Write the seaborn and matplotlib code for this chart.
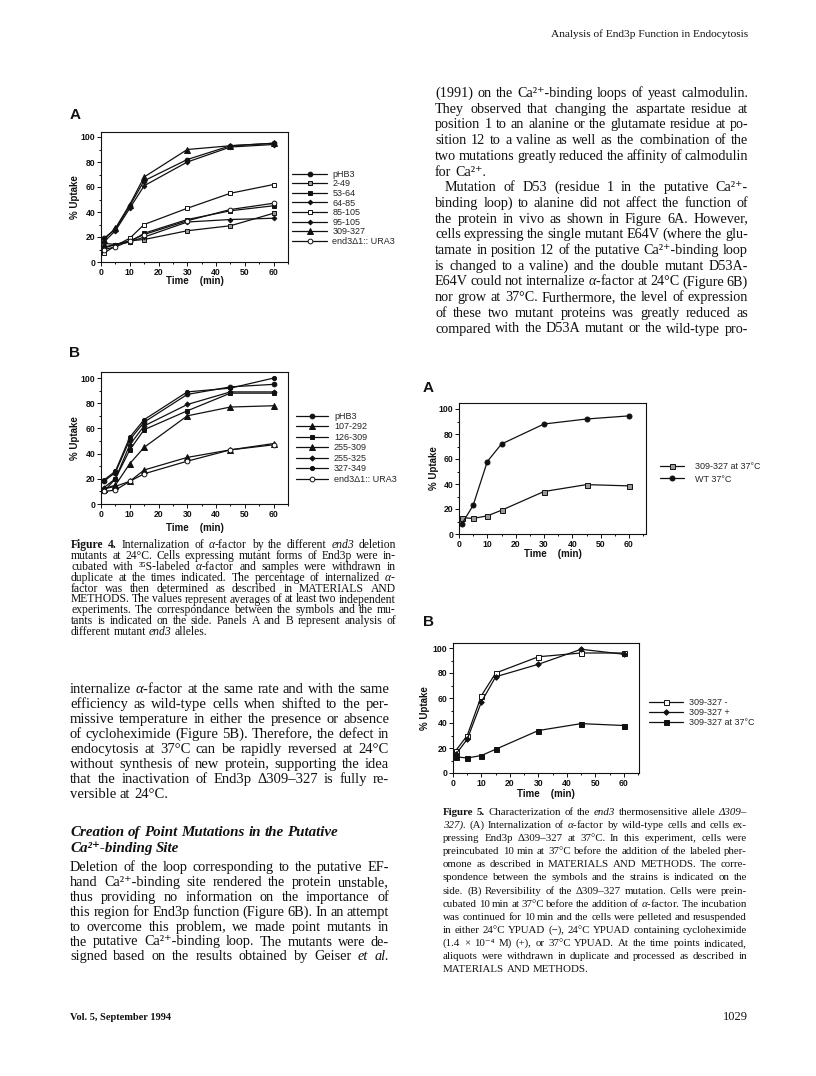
import matplotlib
matplotlib.use('Agg')
import seaborn as sns
import matplotlib.pyplot as plt
from matplotlib.ticker import MultipleLocator

# page size in pixels (dpi 100)
W, H = 816, 1076
INK = '#111111'
SERIF = 'Liberation Serif'
SERIFS = [SERIF, 'DejaVu Serif']
SANS = 'Liberation Sans'

# ---- data ----
TIME = [1, 5, 10, 15, 30, 45, 60]

F4A_NAMES = ['pHB3', '2-49', '53-64', '64-85', '85-105', '95-105', '309-327', 'end3Δ1:: URA3']
F4A_VALUES = [
    [19, 26, 45, 65, 82, 93, 95],
    [11, 14, 17, 18, 25, 29, 39],
    [12, 14, 16, 23, 34, 41, 45],
    [16, 25, 43, 61, 80, 92, 94],
    [7, 13, 19, 30, 43, 55, 62],
    [15, 14, 16, 20, 32, 34, 35],
    [18, 27, 46, 68, 90, 93, 95],
    [10, 12, 17, 22, 33, 42, 47],
]

F4B_NAMES = ['pHB3', '107-292', '126-309', '255-309', '255-325', '327-349', 'end3Δ1:: URA3']
F4B_VALUES = [
    [18, 25, 51, 65, 87, 93, 95],
    [12, 14, 18, 27, 37, 43, 48],
    [10, 20, 43, 59, 74, 88, 88],
    [12, 15, 32, 45, 70, 77, 78],
    [13, 20, 47, 62, 79, 89, 89],
    [19, 26, 53, 67, 89, 92, 100],
    [10, 11, 18, 24, 34, 43, 47],
]

F5A_NAMES = ['309-327 at 37°C', 'WT 37°C']
F5A_VALUES = [
    [13, 12.5, 14.5, 19, 34, 39.5, 38.5],
    [8, 23, 58, 72, 88, 92, 94.5],
]

F5B_NAMES = ['309-327 -', '309-327 +', '309-327 at 37°C']
F5B_VALUES = [
    [18, 30, 62, 80, 93, 96, 96],
    [15, 27, 57, 77, 87, 99, 95],
    [13, 12, 14, 19, 34, 39.5, 38],
]

# marker, face colour, size
GRAY = '#9a9a9a'
F4A_MARKS = [('o', INK, 3.4), ('s', GRAY, 3.2), ('s', INK, 3.2), ('D', INK, 2.4),
             ('s', 'white', 3.4), ('D', INK, 2.4), ('^', INK, 3.8), ('o', 'white', 3.4)]
F4B_MARKS = [('o', INK, 3.4), ('^', INK, 3.8), ('s', INK, 3.4), ('^', INK, 3.8),
             ('D', INK, 2.6), ('o', INK, 3.0), ('o', 'white', 3.4)]
F5A_MARKS = [('s', GRAY, 3.6), ('o', INK, 3.6)]
F5B_MARKS = [('s', 'white', 3.6), ('D', INK, 2.8), ('s', INK, 3.6)]

# ---- page text ----
HEADER = 'Analysis of End3p Function in Endocytosis'

RIGHT_BODY = [
    "(1991) on the Ca²⁺-binding loops of yeast calmodulin.",
    "They observed that changing the aspartate residue at",
    "position 1 to an alanine or the glutamate residue at po-",
    "sition 12 to a valine as well as the combination of the",
    "two mutations greatly reduced the affinity of calmodulin",
    "for Ca²⁺.",
    "Mutation of D53 (residue 1 in the putative Ca²⁺-",
    "binding loop) to alanine did not affect the function of",
    "the protein in vivo as shown in Figure 6A. However,",
    "cells expressing the single mutant E64V (where the glu-",
    "tamate in position 12 of the putative Ca²⁺-binding loop",
    "is changed to a valine) and the double mutant D53A-",
    "E64V could not internalize $\\alpha$-factor at 24°C (Figure 6B)",
    "nor grow at 37°C. Furthermore, the level of expression",
    "of these two mutant proteins was greatly reduced as",
    "compared with the D53A mutant or the wild-type pro-",
]

LEFT_BODY = [
    "internalize $\\alpha$-factor at the same rate and with the same",
    "efficiency as wild-type cells when shifted to the per-",
    "missive temperature in either the presence or absence",
    "of cycloheximide (Figure 5B). Therefore, the defect in",
    "endocytosis at 37°C can be rapidly reversed at 24°C",
    "without synthesis of new protein, supporting the idea",
    "that the inactivation of End3p Δ309–327 is fully re-",
    "versible at 24°C.",
]

HEADING = [
    "Creation of Point Mutations in the Putative",
    "Ca²⁺-binding Site",
]

LEFT_BODY2 = [
    "Deletion of the loop corresponding to the putative EF-",
    "hand Ca²⁺-binding site rendered the protein unstable,",
    "thus providing no information on the importance of",
    "this region for End3p function (Figure 6B). In an attempt",
    "to overcome this problem, we made point mutants in",
    "the putative Ca²⁺-binding loop. The mutants were de-",
    "signed based on the results obtained by Geiser i|et i|al.",
]

CAPTION4 = [
    "b|Figure b|4. Internalization of $\\alpha$-factor by the different i|end3 deletion",
    "mutants at 24°C. Cells expressing mutant forms of End3p were in-",
    "cubated with ³⁵S-labeled $\\alpha$-factor and samples were withdrawn in",
    "duplicate at the times indicated. The percentage of internalized $\\alpha$-",
    "factor was then determined as described in MATERIALS AND",
    "METHODS. The values represent averages of at least two independent",
    "experiments. The correspondance between the symbols and the mu-",
    "tants is indicated on the side. Panels A and B represent analysis of",
    "different mutant i|end3 alleles.",
]

CAPTION5 = [
    "b|Figure b|5. Characterization of the i|end3 thermosensitive allele (i|Δ309–",
    "i|327). (A) Internalization of $\\alpha$-factor by wild-type cells and cells ex-",
    "pressing End3p Δ309–327 at 37°C. In this experiment, cells were",
    "preincubated 10 min at 37°C before the addition of the labeled pher-",
    "omone as described in MATERIALS AND METHODS. The corre-",
    "spondence between the symbols and the strains is indicated on the",
    "side. (B) Reversibility of the Δ309–327 mutation. Cells were prein-",
    "cubated 10 min at 37°C before the addition of $\\alpha$-factor. The incubation",
    "was continued for 10 min and the cells were pelleted and resuspended",
    "in either 24°C YPUAD (−), 24°C YPUAD containing cycloheximide",
    "(1.4 × 10⁻⁴ M) (+), or 37°C YPUAD. At the time points indicated,",
    "aliquots were withdrawn in duplicate and processed as described in",
    "MATERIALS AND METHODS.",
]

sns.set_style('ticks')
plt.rcParams['font.family'] = SERIFS
plt.rcParams['mathtext.fontset'] = 'custom'
plt.rcParams['mathtext.rm'] = SERIF
plt.rcParams['mathtext.it'] = SERIF + ':italic'
plt.rcParams['mathtext.bf'] = SERIF + ':bold'

fig = plt.figure(figsize=(W / 100, H / 100), dpi=100)
fig.patch.set_facecolor('white')
rend = fig.canvas.get_renderer()


def px(x, y):
    return x / W, 1 - y / H


def make_words(line, size, base):
    arts = []
    for tok in line.split():
        kw = dict(base)
        if '|' in tok:
            code, tok = tok.split('|', 1)
            if 'b' in code:
                kw['fontweight'] = 'bold'
            if 'i' in code:
                kw['fontstyle'] = 'italic'
        arts.append(fig.text(0, 0, tok, fontsize=size, family=SERIFS, color=INK,
                             va='baseline', ha='left', **kw))
    return arts


def text_block(lines, x0, x1, y0, step, size, ragged=(), indent=None, base=None):
    indent = indent or {}
    base = base or {}
    rows = [make_words(l, size, base) for l in lines]

    def widths(r):
        return [a.get_window_extent(rend).width for a in r]

    em = size * 100 / 72
    fit = 1.0
    for i, r in enumerate(rows):
        if i in ragged or len(r) < 2:
            continue
        need = sum(widths(r)) + 0.2 * em * (len(r) - 1)
        fit = min(fit, (x1 - x0 - indent.get(i, 0)) / need)
    if fit < 1:
        for r in rows:
            for a in r:
                a.set_fontsize(size * fit)
        em *= fit
    for i, r in enumerate(rows):
        ws = widths(r)
        start = x0 + indent.get(i, 0)
        if i in ragged or len(r) < 2:
            gap = 0.25 * em
        else:
            gap = (x1 - start - sum(ws)) / (len(r) - 1)
        x = start
        for a, w in zip(r, ws):
            a.set_position(px(x, y0 + i * step))
            x += w + gap


def panel(box, names, series, marks, xmax, ymax, ylab_x, xlab_y):
    left, top, right, bottom = box
    ax = fig.add_axes([left / W, 1 - bottom / H, (right - left) / W, (bottom - top) / H])
    for name, vals, (mk, face, ms) in zip(names, series, marks):
        sns.lineplot(x=TIME, y=vals, ax=ax, color=INK, linewidth=0.9,
                     marker=mk, markersize=ms, markerfacecolor=face,
                     markeredgecolor=INK, markeredgewidth=0.7,
                     label=name, legend=False)
    ax.set_xlim(0, xmax)
    ax.set_ylim(0, ymax)
    ax.xaxis.set_major_locator(MultipleLocator(10))
    ax.xaxis.set_minor_locator(MultipleLocator(5))
    ax.yaxis.set_major_locator(MultipleLocator(20))
    ax.yaxis.set_minor_locator(MultipleLocator(10))
    ax.tick_params(which='both', direction='out', width=0.7, colors=INK,
                   labelsize=6.2, pad=1.5, top=False, right=False)
    ax.tick_params(which='major', length=2.6)
    ax.tick_params(which='minor', length=1.5)
    for lab in ax.get_xticklabels() + ax.get_yticklabels():
        lab.set_fontweight('bold')
        lab.set_family(SANS)
    for s in ax.spines.values():
        s.set_visible(True)
        s.set_linewidth(0.8)
        s.set_color(INK)
    ax.set_xlabel('Time    (min)', fontsize=7, fontweight='bold', family=SANS, color=INK)
    ax.set_ylabel('% Uptake', fontsize=7, fontweight='bold', family=SANS, color=INK)
    ax.xaxis.set_label_coords(0.5, (bottom - xlab_y) / (bottom - top))
    ax.yaxis.set_label_coords((ylab_x - left) / (right - left), 0.5)
    ax.xaxis.label.set_va('center')
    ax.yaxis.label.set_va('center')
    return ax


def side_legend(ax, names, x, y_first, hlen, pad, spacing):
    fig.legend(ax.lines[:len(names)], names, loc='upper left',
               bbox_to_anchor=px(x, y_first - 4.3), frameon=False,
               prop={'family': SANS, 'size': 6.5}, handlelength=hlen,
               handletextpad=pad, labelspacing=spacing, borderpad=0,
               borderaxespad=0, numpoints=1)


# Figure 4A
ax4a = panel((101, 132, 288, 262), F4A_NAMES, F4A_VALUES, F4A_MARKS, 65, 104, 75, 281)
side_legend(ax4a, F4A_NAMES, 292, 174, 3.9, 0.55, 0.07)
# Figure 4B
ax4b = panel((101, 372, 288, 504), F4B_NAMES, F4B_VALUES, F4B_MARKS, 65, 104.8, 75, 528)
side_legend(ax4b, F4B_NAMES, 296, 416, 3.55, 0.65, 0.17)
# Figure 5A
ax5a = panel((459, 403, 646, 534), F5A_NAMES, F5A_VALUES, F5A_MARKS, 66, 104.8, 434, 554)
side_legend(ax5a, F5A_NAMES, 660, 466, 2.65, 1.2, 0.43)
# Figure 5B
ax5b = panel((453, 643, 639, 773), F5B_NAMES, F5B_VALUES, F5B_MARKS, 65.3, 104, 425, 794)
side_legend(ax5b, F5B_NAMES, 649, 702, 3.75, 0.7, 0.13)

# panel letters
for (lx, ly, letter) in [(75, 115, 'A'), (75, 353, 'B'), (428, 388, 'A'), (428, 622, 'B')]:
    fig.text(*px(lx, ly), letter, fontsize=11, fontweight='bold', family=SANS,
             color=INK, ha='center', va='center')

# header and footer
fig.text(*px(748, 37), HEADER, fontsize=8.2, family=SERIFS, color=INK, ha='right', va='baseline')
fig.text(*px(70, 1020), 'Vol. 5, September 1994', fontsize=7.5, fontweight='bold',
         family=SERIFS, color=INK, ha='left', va='baseline')
fig.text(*px(748, 1020), '1029', fontsize=9, family=SERIFS, color=INK, ha='right', va='baseline')

# body text and captions
text_block(RIGHT_BODY, 435, 748, 97, 15.7, 10.5, ragged={5}, indent={6: 10})
text_block(LEFT_BODY, 70, 389, 693, 15.0, 10.5, ragged={7})
text_block(HEADING, 70, 389, 836, 16.0, 10.8, ragged={0, 1},
           base={'fontweight': 'bold', 'fontstyle': 'italic'})
text_block(LEFT_BODY2, 70, 389, 871, 14.9, 10.5)
text_block(CAPTION4, 71, 396, 548, 10.9, 8.6, ragged={8})
text_block(CAPTION5, 443, 747, 815, 13.1, 8.6, ragged={12})

fig.savefig('out.png', dpi=100, facecolor='white')
